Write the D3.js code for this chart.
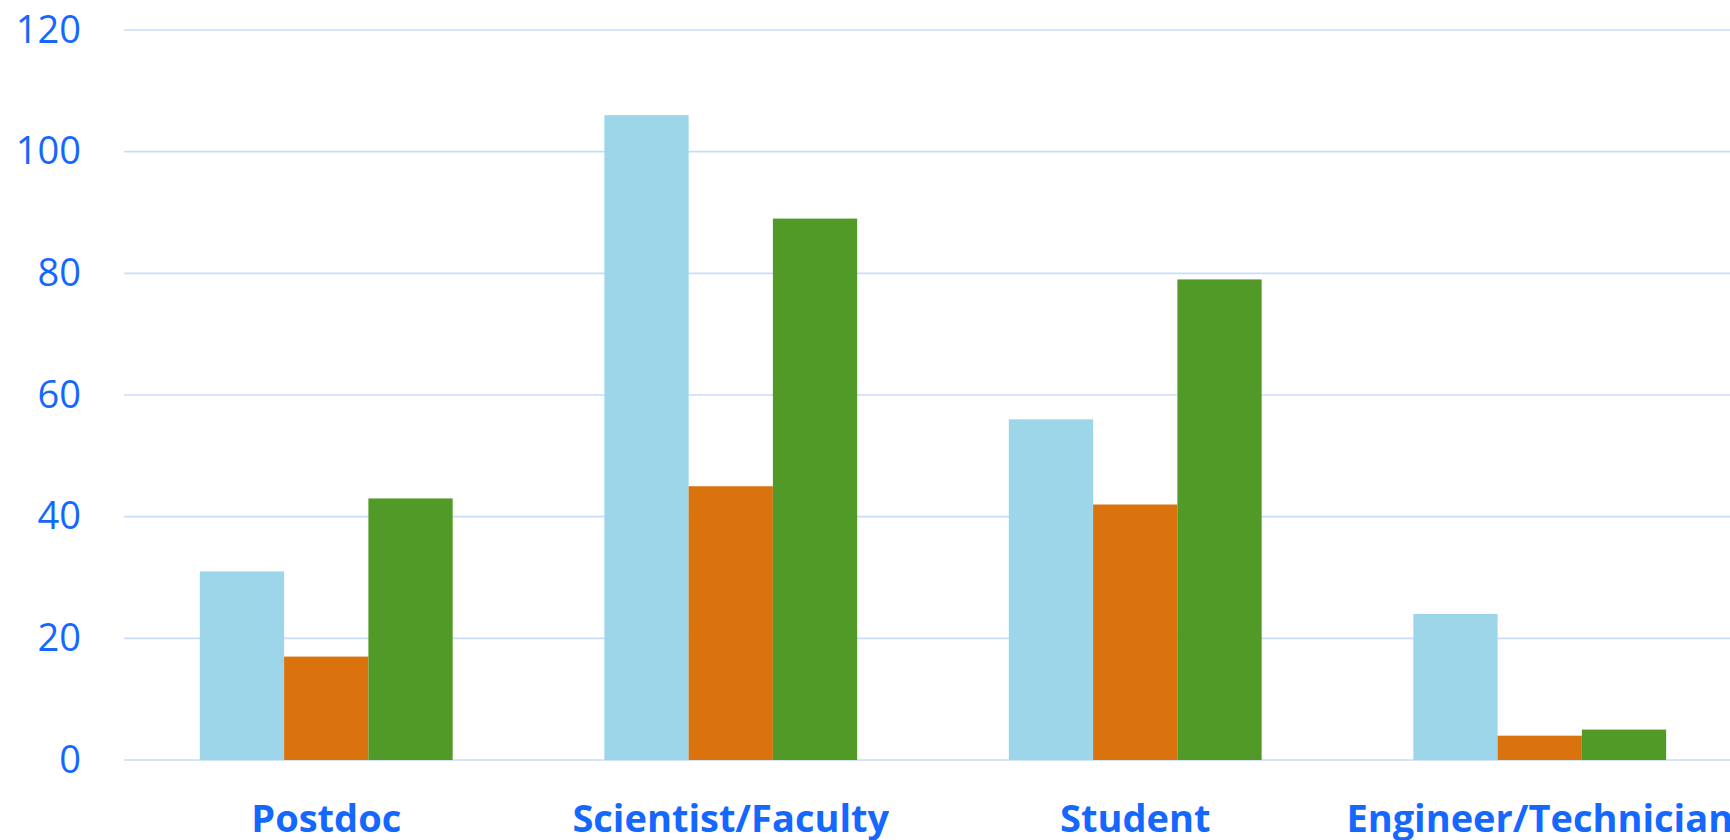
<!doctype html>
<html>

<head>
    <meta charset="utf-8">
    <title>Roles</title>
    <style>
        body {
            margin: 0;
            background: #fff;
        }

        svg {
            display: block;
            font-family: "Open Sans", sans-serif;
        }

        .grid line {
            stroke: #c9ddf9;
            stroke-width: 1.6;
        }

        .axis text {
            fill: #1467ff;
        }
    </style>
    <script src="https://cdn.jsdelivr.net/npm/d3@7"></script>
</head>

<body>
    <svg width="1730" height="840"></svg>
    <script>
        var categories = ["Postdoc", "Scientist/Faculty", "Student", "Engineer/Technician"];
        var seriesA = [31, 106, 56, 24];   // light blue
        var seriesB = [17, 45, 42, 4];     // orange
        var seriesC = [43, 89, 79, 5];     // green
        var yTicks = [0, 20, 40, 60, 80, 100, 120];
        var colors = ["#9dd6e9", "#da720e", "#529a27"];

        var svg = d3.select("svg");

        // note: "top" is a reserved window prop, so use a margin object
        var plot = { x0: 124, x1: 1742, y0: 30, y1: 760 };

        var x0 = d3.scaleBand()
            .domain(categories)
            .range([plot.x0, plot.x1])
            .paddingInner(0.375)
            .paddingOuter(0.1875);

        var keys = ["a", "b", "c"];
        var x1 = d3.scaleBand()
            .domain(keys)
            .range([0, x0.bandwidth()]);

        var y = d3.scaleLinear()
            .domain([0, 120])
            .range([plot.y1, plot.y0]);

        var data = categories.map(function (c, i) {
            return { cat: c, vals: [seriesA[i], seriesB[i], seriesC[i]] };
        });

        // gridlines
        svg.append("g")
            .attr("class", "grid")
            .selectAll("line")
            .data(yTicks)
            .enter().append("line")
            .attr("x1", plot.x0)
            .attr("x2", 1730)
            .attr("y1", function (d) { return y(d); })
            .attr("y2", function (d) { return y(d); });

        // y axis labels
        svg.append("g")
            .attr("class", "axis")
            .attr("transform", "translate(81,0)")
            .call(d3.axisLeft(y).tickValues(yTicks).tickSize(0).tickPadding(0))
            .call(function (g) {
                g.select(".domain").remove();
                g.selectAll("text")
                    .attr("font-size", 38)
                    .attr("font-family", "'Open Sans', sans-serif");
            });

        // bars
        svg.append("g")
            .selectAll("g")
            .data(data)
            .enter().append("g")
            .attr("transform", function (d) { return "translate(" + x0(d.cat) + ",0)"; })
            .selectAll("rect")
            .data(function (d) { return d.vals.map(function (v, j) { return { k: keys[j], v: v, j: j }; }); })
            .enter().append("rect")
            .attr("x", function (d) { return x1(d.k); })
            .attr("y", function (d) { return y(d.v); })
            .attr("width", x1.bandwidth())
            .attr("height", function (d) { return y(0) - y(d.v); })
            .attr("fill", function (d) { return colors[d.j]; });

        // x axis labels
        svg.append("g")
            .attr("class", "axis")
            .attr("transform", "translate(0,832)")
            .call(d3.axisBottom(x0).tickSize(0).tickPadding(0))
            .call(function (g) {
                g.select(".domain").remove();
                g.selectAll("text")
                    .attr("dy", 0)
                    .attr("font-size", 38)
                    .attr("font-weight", "bold")
                    .attr("font-family", "'Open Sans', sans-serif");
            });
    </script>
</body>

</html>
